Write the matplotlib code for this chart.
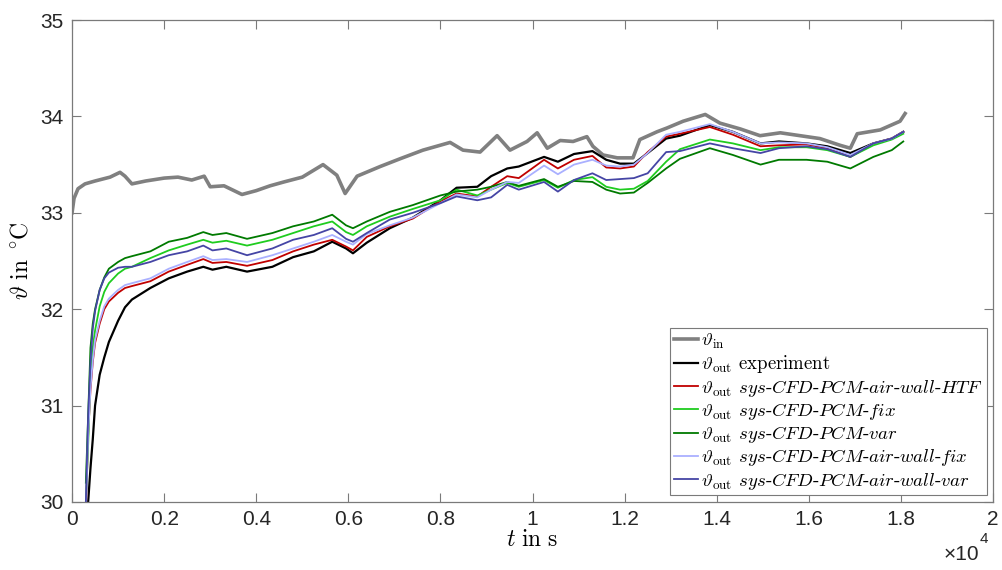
import numpy as np
import matplotlib
matplotlib.use("Agg")
import matplotlib.pyplot as plt

plt.rcParams['mathtext.fontset'] = 'cm'
plt.rcParams['font.family'] = ['Liberation Sans', 'DejaVu Sans']
plt.rcParams['axes.unicode_minus'] = False

# inlet temperature (measured)
t_in = [0, 43, 130, 282, 500, 825, 1042, 1150, 1300, 1600, 2000, 2300, 2600, 2870,
        3000, 3300, 3690, 4000, 4300, 4600, 5000, 5450, 5750, 5930, 6190, 6690,
        7120, 7620, 8210, 8490, 8860, 9230, 9510, 9880, 10100, 10320, 10600, 10880,
        11180, 11310, 11530, 11840, 12180, 12330, 12700, 12920, 13270, 13750, 14070,
        14510, 14940, 15380, 15810, 16240, 16680, 16900, 17050, 17550, 17980, 18090]
v_in = [33.0, 33.15, 33.25, 33.30, 33.33, 33.37, 33.42, 33.38, 33.30, 33.33, 33.36,
        33.37, 33.34, 33.38, 33.27, 33.28, 33.19, 33.23, 33.28, 33.32, 33.37, 33.50,
        33.39, 33.20, 33.38, 33.48, 33.56, 33.65, 33.73, 33.65, 33.63, 33.80, 33.65,
        33.74, 33.83, 33.67, 33.75, 33.74, 33.79, 33.69, 33.60, 33.57, 33.57, 33.76,
        33.84, 33.88, 33.95, 34.02, 33.93, 33.87, 33.80, 33.83, 33.80, 33.77, 33.70,
        33.67, 33.82, 33.86, 33.95, 34.03]

# common time grid of the outlet curves
t_out = [300, 350, 400, 450, 500, 600, 700, 800, 1000, 1150, 1300, 1700, 2100, 2500,
         2850, 3050, 3350, 3800, 4350, 4800, 5250, 5650, 5950, 6100, 6400, 6900, 7400,
         8000, 8350, 8800, 9100, 9450, 9700, 10250, 10550, 10900, 11300, 11600, 11900,
         12200, 12500, 12900, 13200, 13850, 14350, 14950, 15350, 15950, 16400, 16900,
         17400, 17800, 18050]

v_exp = [29.6, 30.0, 30.35, 30.65, 31.0, 31.32, 31.5, 31.66, 31.88, 32.02, 32.1, 32.22,
         32.32, 32.39, 32.44, 32.41, 32.44, 32.39, 32.44, 32.54, 32.6, 32.7, 32.63,
         32.58, 32.69, 32.84, 32.95, 33.13, 33.26, 33.27, 33.38, 33.46, 33.48, 33.58,
         33.53, 33.61, 33.64, 33.55, 33.51, 33.51, 33.62, 33.77, 33.80, 33.91, 33.84,
         33.72, 33.74, 33.72, 33.69, 33.62, 33.72, 33.77, 33.84]

v_htf = [29.9, 30.7, 31.16, 31.45, 31.65, 31.85, 32.0, 32.08, 32.17, 32.22, 32.24,
         32.29, 32.39, 32.46, 32.52, 32.48, 32.49, 32.45, 32.51, 32.60, 32.67, 32.72,
         32.65, 32.61, 32.75, 32.86, 32.94, 33.12, 33.2, 33.17, 33.27, 33.38, 33.36,
         33.55, 33.46, 33.55, 33.59, 33.47, 33.46, 33.48, 33.63, 33.79, 33.82, 33.89,
         33.81, 33.69, 33.70, 33.71, 33.67, 33.58, 33.72, 33.77, 33.84]

v_pcm_fix = [30.0, 30.6, 31.3, 31.6, 31.78, 32.03, 32.18, 32.27, 32.37, 32.42, 32.44,
             32.53, 32.61, 32.67, 32.72, 32.69, 32.71, 32.66, 32.72, 32.79, 32.86,
             32.91, 32.8, 32.77, 32.86, 32.96, 33.04, 33.13, 33.24, 33.18, 33.24, 33.31,
             33.27, 33.34, 33.26, 33.34, 33.37, 33.27, 33.24, 33.25, 33.33, 33.53, 33.66,
             33.76, 33.72, 33.65, 33.68, 33.68, 33.65, 33.58, 33.70, 33.76, 33.82]

v_pcm_var = [30.2, 30.9, 31.6, 31.85, 32.0, 32.2, 32.33, 32.42, 32.49, 32.53, 32.55,
             32.6, 32.70, 32.74, 32.80, 32.77, 32.79, 32.73, 32.79, 32.86, 32.91, 32.98,
             32.87, 32.84, 32.91, 33.01, 33.08, 33.18, 33.22, 33.24, 33.27, 33.32, 33.28,
             33.35, 33.27, 33.33, 33.32, 33.24, 33.20, 33.21, 33.31, 33.46, 33.56, 33.67,
             33.60, 33.50, 33.55, 33.55, 33.53, 33.46, 33.58, 33.65, 33.74]

v_wall_fix = [29.9, 30.7, 31.18, 31.47, 31.68, 31.88, 32.03, 32.11, 32.2, 32.25, 32.27,
              32.32, 32.42, 32.49, 32.55, 32.51, 32.52, 32.49, 32.56, 32.63, 32.70,
              32.77, 32.7, 32.67, 32.78, 32.87, 32.95, 33.1, 33.19, 33.16, 33.24, 33.32,
              33.31, 33.49, 33.40, 33.5, 33.55, 33.49, 33.48, 33.50, 33.62, 33.81, 33.84,
              33.92, 33.84, 33.72, 33.73, 33.72, 33.68, 33.6, 33.72, 33.77, 33.84]

v_wall_var = [30.0, 30.9, 31.45, 31.8, 31.98, 32.2, 32.32, 32.38, 32.43, 32.44, 32.44,
              32.49, 32.56, 32.60, 32.66, 32.61, 32.63, 32.56, 32.63, 32.72, 32.77,
              32.84, 32.73, 32.70, 32.79, 32.93, 33.0, 33.1, 33.17, 33.13, 33.16, 33.29,
              33.24, 33.32, 33.22, 33.34, 33.41, 33.34, 33.35, 33.36, 33.41, 33.63, 33.64,
              33.72, 33.67, 33.62, 33.67, 33.69, 33.66, 33.58, 33.72, 33.77, 33.84]

def sim(name):
    parts = '-'.join(r'$\mathit{%s}$' % p for p in name.split('-'))
    return r'$\vartheta_\mathrm{out}$ ' + parts

fig = plt.figure(figsize=(10.02, 5.70), dpi=100)
ax = fig.add_axes([0.0719, 0.1193, 0.9192, 0.8456])

ax.plot(t_in, v_in, color='#808080', lw=2.6, label=r'$\vartheta_\mathrm{in}$')
ax.plot(t_out, v_exp, color='black', lw=1.6, label=r'$\vartheta_\mathrm{out}$ experiment')
ax.plot(t_out, v_htf, color='#c00000', lw=1.3, label=sim('sys-CFD-PCM-air-wall-HTF'))
ax.plot(t_out, v_pcm_fix, color='#1fcc1f', lw=1.3, label=sim('sys-CFD-PCM-fix'))
ax.plot(t_out, v_pcm_var, color='#007a00', lw=1.3, label=sim('sys-CFD-PCM-var'))
ax.plot(t_out, v_wall_fix, color='#aab0ff', lw=1.3, label=sim('sys-CFD-PCM-air-wall-fix'))
ax.plot(t_out, v_wall_var, color='#4545a5', lw=1.3, label=sim('sys-CFD-PCM-air-wall-var'))

ax.set_xlim(0, 20000)
ax.set_ylim(30, 35)
xt = np.arange(0, 20001, 2000)
ax.set_xticks(xt)
ax.set_xticklabels(['0', '0.2', '0.4', '0.6', '0.8', '1', '1.2', '1.4', '1.6', '1.8', '2'])
ax.set_yticks([30, 31, 32, 33, 34, 35])

for s in ax.spines.values():
    s.set_color('#7a7a7a')
    s.set_linewidth(0.9)
ax.tick_params(direction='in', length=6.5, width=0.8, color='#7a7a7a',
               labelsize=15, labelcolor='#262626', top=True, right=True, pad=6)

ax.set_xlabel(r'$t\ \mathrm{in\ s}$', fontsize=17, labelpad=0)
ax.set_ylabel(r'$\vartheta\ \mathrm{in}\ {}^\circ\!\mathrm{C}$', fontsize=17, labelpad=6)

# x10^4 exponent, MATLAB style
fig.text(0.977, 0.010, '×10', fontsize=15, ha='right', va='bottom', color='#262626')
fig.text(0.978, 0.042, '4', fontsize=11, ha='left', va='bottom', color='#262626')

leg = ax.legend(loc='lower right', prop={'family': 'cmr10', 'size': 13.5},
                handlelength=1.3, handletextpad=0.15, labelspacing=0.12,
                borderpad=0.2, borderaxespad=0.35, fancybox=False, framealpha=1)
leg.get_frame().set_edgecolor('#7a7a7a')
leg.get_frame().set_linewidth(0.8)

plt.savefig('out.png', dpi=100)
